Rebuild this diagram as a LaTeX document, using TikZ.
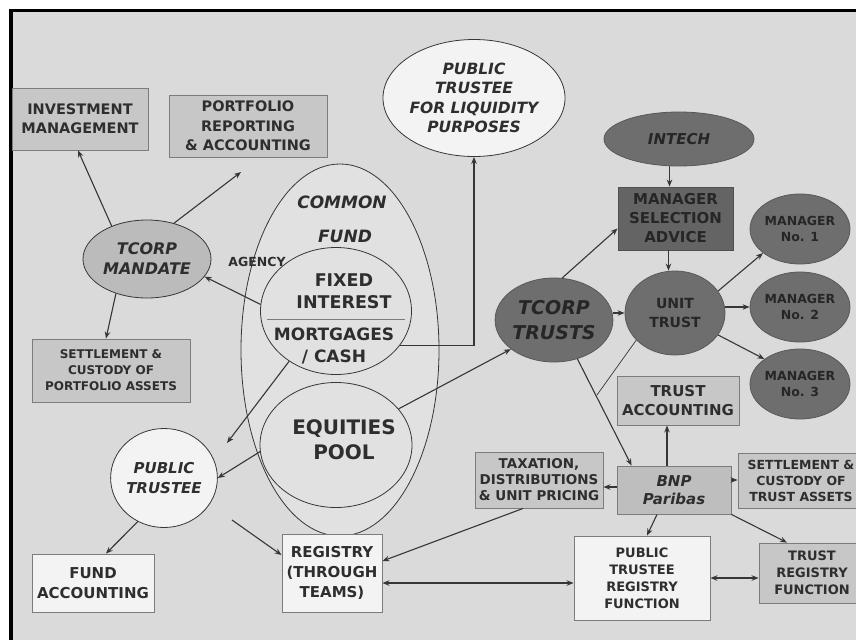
\documentclass[tikz,border=0pt]{standalone}
\usepackage{fontspec}
\setmainfont{DejaVu Sans}
\usetikzlibrary{arrows.meta,shapes.geometric,calc}
\definecolor{bg}{HTML}{DADADA}
\definecolor{lbox}{HTML}{C7C7C7}
\definecolor{dark}{HTML}{6E6E6E}
\definecolor{darkbox}{HTML}{646464}
\definecolor{mid}{HTML}{BBBBBB}
\definecolor{bnpc}{HTML}{BEBEBE}
\definecolor{wht}{HTML}{F3F3F3}
\definecolor{cfill}{HTML}{E1E1E1}
\definecolor{txt}{HTML}{2E2E2E}
\definecolor{edgec}{HTML}{363636}
\definecolor{bord}{HTML}{7C7C7C}
\newcommand\myfs[2]{\fontsize{#1}{#2}\selectfont\bfseries}
\begin{document}
\begin{tikzpicture}[x=1pt,y=-1pt,
  every node/.style={inner sep=0pt, text=txt, align=center},
  box/.style={rectangle, draw=bord, line width=0.9pt},
  ell/.style={ellipse, draw=edgec, line width=0.8pt},
  darkn/.style={ell, fill=dark, draw=dark!80!black, text=black!85},
  arr/.style={draw=edgec, line width=1.1pt, -{Stealth[length=7pt,width=5.5pt]}},
  darr/.style={draw=edgec, line width=1.1pt, {Stealth[length=7pt,width=5.5pt]}-{Stealth[length=7pt,width=5.5pt]}},
  thinl/.style={draw=edgec, line width=0.7pt},
  ]
\useasboundingbox (0,0) rectangle (856,640);
\clip (0,0) rectangle (856,640);
\fill[white] (0,0) rectangle (856,640);
\fill[bg] (13,12) rectangle (856,640);
\fill[black] (9,9) rectangle (856,12);
\fill[black] (9,9) rectangle (13,640);

% left side
\node[box, fill=lbox, minimum width=136pt, minimum height=62pt, font=\myfs{14.5}{19}] (inv) at (80,119) {INVESTMENT\\MANAGEMENT};
\node[box, fill=lbox, minimum width=158pt, minimum height=62pt, font=\myfs{14.5}{19.5}] (port) at (248,126) {PORTFOLIO\\REPORTING\\\& ACCOUNTING};
\node[ell, fill=mid, minimum width=128pt, minimum height=78pt, font=\myfs{16}{20}\itshape] (mand) at (147,259) {TCORP\\MANDATE};
\node[box, fill=lbox, minimum width=158pt, minimum height=63pt, font=\myfs{12}{16}] (setp) at (111,370.5) {SETTLEMENT \&\\CUSTODY OF\\PORTFOLIO ASSETS};

% common fund
\node[ell, fill=cfill, minimum width=198pt, minimum height=372pt] (common) at (340,350) {};
\node[font=\myfs{17}{20}\itshape] (cf1) at (342,202) {COMMON};
\node[font=\myfs{17}{20}\itshape] (cf2) at (345,236) {FUND};
\node[ell, fill=cfill, minimum width=151pt, minimum height=127pt] (fixed) at (336,311) {};
\draw[draw=bord, line width=0.9pt] ($(fixed.west)+(7,8)$) -- ($(fixed.east)+(-7,8)$);
\node[font=\myfs{17.5}{22}] (fi) at (344,291) {FIXED\\INTEREST};
\node[font=\myfs{17}{22}] (mc) at (334,346) {MORTGAGES\\/ CASH};
\node[ell, fill=cfill, minimum width=152pt, minimum height=125pt] (equity) at (336,445) {};
\node[font=\myfs{20}{25}] (eq) at (344,440) {EQUITIES\\POOL};
\node[font=\myfs{12.5}{15}] (agency) at (257,262) {AGENCY};

\node[ell, fill=wht, minimum width=148pt, minimum height=117pt, font=\myfs{15.5}{19.5}\itshape] (ptliq) at (474,98) {PUBLIC\\TRUSTEE\\FOR LIQUIDITY\\PURPOSES};

\node[ell, fill=wht, minimum width=106pt, minimum height=99pt, font=\myfs{15}{20}\itshape] (pt) at (164,478) {PUBLIC\\TRUSTEE};
\node[box, fill=wht, minimum width=122pt, minimum height=58pt, font=\myfs{15}{19.5}] (fund) at (93,583) {FUND\\ACCOUNTING};
\node[box, fill=wht, minimum width=100pt, minimum height=78pt, font=\myfs{15}{20}] (reg) at (332,573) {REGISTRY\\(THROUGH\\TEAMS)};

% right side
\node[darkn, minimum width=150pt, minimum height=54pt, font=\myfs{15}{18}\itshape] (intech) at (679,139) {INTECH};
\node[box, fill=darkbox, draw=darkbox!80!black, text=black!85, minimum width=115pt, minimum height=63pt, font=\myfs{15}{19}] (msa) at (675.5,218.5) {MANAGER\\SELECTION\\ADVICE};
\node[darkn, minimum width=114pt, minimum height=84pt, font=\myfs{19}{25}\itshape] (tcorpt) at (554,320) {TCORP\\TRUSTS};
\node[darkn, minimum width=100pt, minimum height=84pt, font=\myfs{14}{19}] (unit) at (675,313) {UNIT\\TRUST};
\node[darkn, minimum width=78pt, minimum height=70pt, font=\myfs{12.5}{16}] (m1) at (800,229) {MANAGER\\No. 1};
\node[darkn, minimum width=78pt, minimum height=70pt, font=\myfs{12.5}{16}] (m2) at (800,307) {MANAGER\\No. 2};
\node[darkn, minimum width=78pt, minimum height=70pt, font=\myfs{12.5}{16}] (m3) at (800,384) {MANAGER\\No. 3};
\node[box, fill=lbox, minimum width=122pt, minimum height=49pt, font=\myfs{15}{19}] (tacc) at (678,400.5) {TRUST\\ACCOUNTING};
\node[box, fill=lbox, minimum width=128pt, minimum height=56pt, font=\myfs{13.5}{16}] (tax) at (539,480) {TAXATION,\\DISTRIBUTIONS\\\& UNIT PRICING};
\node[box, fill=bnpc, minimum width=114pt, minimum height=48pt, font=\myfs{15}{18}\itshape] (bnp) at (674,490) {BNP\\Paribas};
\node[box, fill=lbox, minimum width=126pt, minimum height=55pt, font=\myfs{12.5}{16}] (settr) at (801,480.5) {SETTLEMENT \&\\CUSTODY OF\\TRUST ASSETS};
\node[box, fill=wht, minimum width=136pt, minimum height=84pt, font=\myfs{13}{17}] (ptreg) at (642,578) {PUBLIC\\TRUSTEE\\REGISTRY\\FUNCTION};
\node[box, fill=lbox, minimum width=106pt, minimum height=60pt, font=\myfs{13}{17}] (trreg) at (812,573) {TRUST\\REGISTRY\\FUNCTION};

% helper coordinates
\coordinate (pfree) at (241,172);
\coordinate (mfree) at (227,443);
\coordinate (rfree) at (232,520);
\coordinate (tfree) at (597,395);
\coordinate (y583) at (0,583);
\coordinate (msaN) at ([xshift=-6pt]msa.north);
\coordinate (msaS) at ([xshift=-7pt]msa.south);
\coordinate (bnpN) at ([xshift=-7pt]bnp.north);
\coordinate (bnpW) at ([yshift=3pt]bnp.west);
\coordinate (bnpE) at ([yshift=10pt]bnp.east);

% connectors
\draw[arr] (mand.137) -- ([xshift=-2pt]inv.south);
\draw[arr] (mand.53) -- (pfree);
\draw[arr] (fixed.175) -- (mand.-17);
\draw[arr] (mand.228) -- ([xshift=-5pt]setp.north);
\draw[arr] (fixed.-28) -| (ptliq.south);
\draw[arr] (fixed.-133) -- (mfree);
\draw[arr] (equity.185) -- (pt.east);
\draw[arr] (equity.30) -- (tcorpt.214);
\draw[arr] (pt.-121) -- ([xshift=13pt]fund.north);
\draw[arr] (rfree) -- ([yshift=18pt]reg.west);
\draw[arr] ([xshift=-16pt]tax.south) -- ([yshift=12pt]reg.east);
\draw[darr] (reg.east |- y583) -- (ptreg.west |- y583);
\draw[darr] (ptreg.east) -- (ptreg.east -| trreg.west);
\draw[arr] (bnpN) -- (bnpN |- tacc.south);
\draw[arr] (bnpW) -- (bnpW -| tax.east);
\draw[arr] (bnpE) -- (bnpE -| settr.west);
\draw[arr] ([xshift=-17pt]bnp.south) -- ([xshift=5pt]ptreg.north);
\draw[arr] (bnp.south east) -- ([xshift=-25pt]trreg.north);
\draw[arr] (tcorpt.-59) -- ([xshift=15pt]bnp.north west);
\draw[arr] (tcorpt.79) -- ([yshift=-10pt]msa.west);
\draw[arr] (msaN |- intech.south) -- (msaN);
\draw[arr] (msaS) -- (msaS |- unit.north);
\draw[arr] (tcorpt.east |- unit.west) -- (unit.west);
\draw[arr] (unit.27) -- (m1.213);
\draw[arr] (unit.east |- m2.west) -- (m2.west);
\draw[arr] (unit.-27) -- (m3.145);
\draw[thinl] (unit.215) -- (tfree);
\end{tikzpicture}
\end{document}
